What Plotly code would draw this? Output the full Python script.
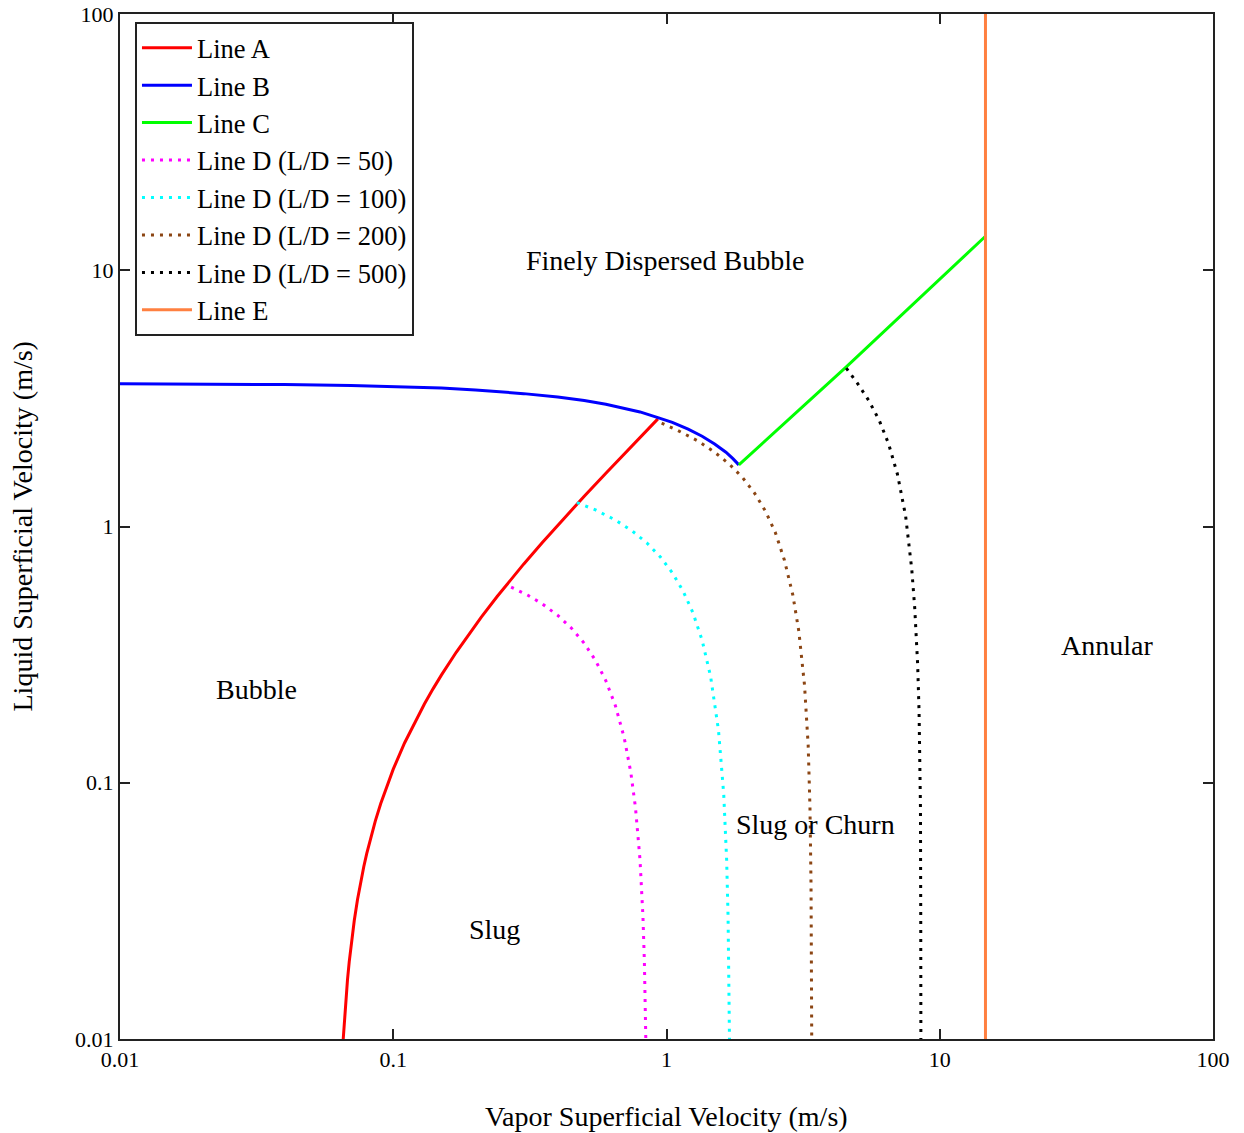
import numpy as np
import plotly.graph_objects as go

# ---- flow-regime boundary data (superficial velocities, m/s) ----
line_a_x = [0.0656, 0.066, 0.0665, 0.067, 0.068, 0.069, 0.070, 0.072, 0.074, 0.076,
            0.078, 0.080, 0.083, 0.086, 0.09, 0.095, 0.1, 0.11, 0.12, 0.13, 0.14,
            0.15, 0.17, 0.19, 0.21, 0.24, 0.27, 0.30, 0.35, 0.40, 0.45, 0.50, 0.60,
            0.70, 0.80, 0.93]
line_a_y = [0.010, 0.011, 0.0125, 0.014, 0.017, 0.020, 0.023, 0.029, 0.035, 0.041,
            0.047, 0.053, 0.062, 0.071, 0.083, 0.098, 0.113, 0.143, 0.173, 0.203, 0.233,
            0.263, 0.323, 0.383, 0.443, 0.533, 0.623, 0.713, 0.863, 1.013, 1.163, 1.313,
            1.613, 1.913, 2.213, 2.63]

line_b_x = [0.01, 0.02, 0.04, 0.07, 0.1, 0.15, 0.2, 0.3, 0.4, 0.5, 0.6, 0.7, 0.8,
            0.93, 1.05, 1.2, 1.35, 1.5, 1.65, 1.75, 1.84]
line_b_y = [3.61, 3.60, 3.58, 3.55, 3.52, 3.47, 3.41, 3.30, 3.20, 3.10, 3.00, 2.90, 2.80,
            2.66, 2.55, 2.40, 2.25, 2.10, 1.95, 1.84, 1.74]

line_c_x = [1.84, 4.55, 14.7]
line_c_y = [1.74, 4.20, 13.57]

line_d50_x = [0.27, 0.31, 0.35, 0.40, 0.45, 0.50, 0.55, 0.60, 0.65, 0.70, 0.74, 0.77,
              0.80, 0.82, 0.83, 0.835, 0.84]
line_d50_y = [0.58, 0.54, 0.50, 0.45, 0.40, 0.35, 0.30, 0.25, 0.20, 0.15, 0.11, 0.08,
              0.05, 0.03, 0.02, 0.015, 0.01]

line_d100_x = [0.47, 0.55, 0.65, 0.75, 0.85, 0.95, 1.05, 1.15, 1.25, 1.35, 1.45, 1.55,
               1.62, 1.66, 1.68, 1.69, 1.70]
line_d100_y = [1.24, 1.16, 1.06, 0.96, 0.86, 0.76, 0.66, 0.56, 0.46, 0.36, 0.26, 0.16,
               0.09, 0.05, 0.03, 0.02, 0.01]

line_d200_x = [0.96, 1.1, 1.3, 1.5, 1.7, 1.9, 2.1, 2.3, 2.5, 2.7, 2.9, 3.05, 3.2, 3.3,
               3.35, 3.38, 3.40]
line_d200_y = [2.53, 2.37, 2.16, 1.95, 1.75, 1.55, 1.35, 1.15, 0.95, 0.74, 0.54, 0.39,
               0.24, 0.14, 0.08, 0.04, 0.01]

line_d500_x = [4.55, 5.0, 5.5, 6.0, 6.5, 7.0, 7.5, 7.9, 8.1, 8.3, 8.4, 8.45, 8.5, 8.52, 8.53]
line_d500_y = [4.15, 3.62, 3.10, 2.60, 2.10, 1.60, 1.10, 0.68, 0.48, 0.29, 0.19, 0.14,
               0.08, 0.03, 0.01]

line_e_x = [14.7, 14.7]
line_e_y = [0.01, 100]

tick_vals = [0.01, 0.1, 1, 10, 100]
tick_text = ["0.01", "0.1", "1", "10", "100"]

regions = ["Finely Dispersed Bubble", "Bubble", "Slug", "Slug or Churn", "Annular"]
region_x = [0.99, 0.0316, 0.234, 3.51, 41.0]
region_y = [10.9, 0.2305, 0.0267, 0.0686, 0.342]

FONT = "Liberation Serif, Times New Roman, serif"
DOT = "3px,6px"

series = [
    ("Line A", line_a_x, line_a_y, "#FF0000", "solid"),
    ("Line B", line_b_x, line_b_y, "#0000FF", "solid"),
    ("Line C", line_c_x, line_c_y, "#00FF00", "solid"),
    ("Line D (L/D = 50)", line_d50_x, line_d50_y, "#FF00FF", DOT),
    ("Line D (L/D = 100)", line_d100_x, line_d100_y, "#00FFFF", DOT),
    ("Line D (L/D = 200)", line_d200_x, line_d200_y, "#8B4513", DOT),
    ("Line D (L/D = 500)", line_d500_x, line_d500_y, "#000000", DOT),
    ("Line E", line_e_x, line_e_y, "#FF8040", "solid"),
]

fig = go.Figure()
for name, xs, ys, color, dash in series:
    fig.add_trace(go.Scatter(
        x=xs, y=ys, mode="lines", name=name,
        line=dict(color=color, width=3, dash=dash),
    ))

# regime names (annotation positions on log axes are given as log10 values)
for text, rx, ry in zip(regions, region_x, region_y):
    fig.add_annotation(
        x=np.log10(rx), y=np.log10(ry), xref="x", yref="y", text=text,
        xanchor="center", yanchor="middle",
        showarrow=False, font=dict(family=FONT, size=28, color="black"),
    )

# axis titles
fig.add_annotation(
    x=0.5, y=0, xref="paper", yref="paper", yshift=-77,
    xanchor="center", yanchor="middle",
    text="Vapor Superficial Velocity (m/s)",
    showarrow=False, font=dict(family=FONT, size=28, color="black"),
)
fig.add_annotation(
    x=0, y=0.5, xref="paper", yref="paper", xshift=-98, textangle=-90,
    xanchor="center", yanchor="middle",
    text="Liquid Superficial Velocity (m/s)",
    showarrow=False, font=dict(family=FONT, size=28, color="black"),
)

axis_common = dict(
    type="log", showgrid=False, zeroline=False, automargin=False,
    showline=True, linecolor="#222222", linewidth=2, mirror="allticks",
    ticks="inside", ticklen=10, tickwidth=2, tickcolor="#222222",
    tickvals=tick_vals, ticktext=tick_text,
    tickfont=dict(family=FONT, size=22, color="black"),
)

fig.update_layout(
    width=1244, height=1133,
    margin=dict(l=120, r=31, t=14, b=94),
    paper_bgcolor="white", plot_bgcolor="white",
    xaxis=dict(range=[-2, 2], **axis_common),
    yaxis=dict(range=[-2, 2], **axis_common),
    showlegend=True,
    legend=dict(
        x=0.0137, y=0.9922, xanchor="left", yanchor="top",
        bgcolor="white", bordercolor="#222222", borderwidth=2,
        font=dict(family=FONT, size=26.5, color="black"),
        itemwidth=50,
    ),
)

fig.write_html("out.html")
